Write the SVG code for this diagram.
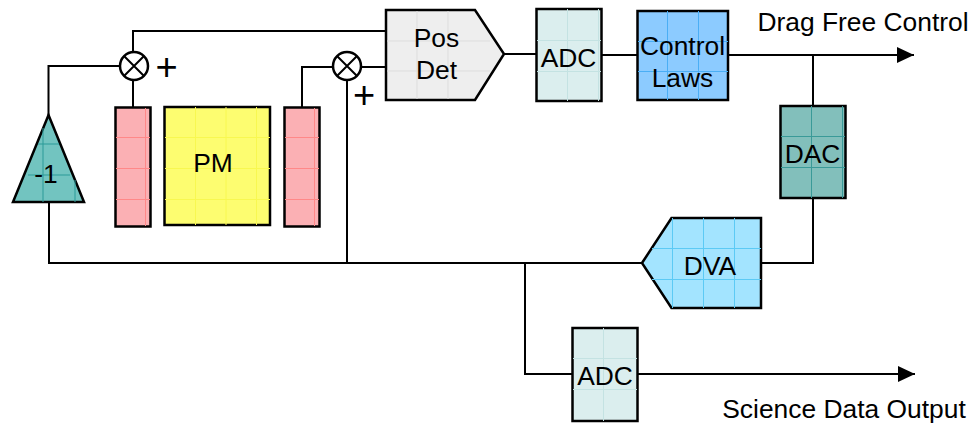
<svg xmlns="http://www.w3.org/2000/svg" width="972" height="424" viewBox="0 0 972 424">
<style>
.s{stroke:#000;stroke-width:2.5;stroke-linejoin:miter}
.c{fill:none;stroke:#000;stroke-width:2}
.t{font-family:"Liberation Sans",Arial,sans-serif;font-size:26.400px;fill:#000;text-anchor:middle}
.g{fill:none;stroke-width:1}
.p{font-family:"Liberation Sans",Arial,sans-serif;font-size:38px;fill:#000;text-anchor:middle}
</style>
<defs>
<marker id="a" markerUnits="userSpaceOnUse" markerWidth="18" markerHeight="16" refX="17" refY="8" orient="auto"><path d="M0 0L17 8L0 16Z" fill="#000"/></marker>
</defs>
<g id="connectors" class="c">
<path d="M133 52V31H386"/>
<path d="M120 66H48.500V115"/>
<path d="M133 80V107"/>
<path d="M302 107V67H333"/>
<path d="M361 67H386"/>
<path d="M347 80V263"/>
<path d="M49 202V263H642"/>
<path d="M525 263V374H572"/>
<path d="M637 374H915" marker-end="url(#a)"/>
<path d="M504 54H536"/>
<path d="M601 55H637"/>
<path d="M728 55H914" marker-end="url(#a)"/>
<path d="M813 55V106"/>
<path d="M813 198V263H761"/>
</g>
<g id="inv">
<path class="s" d="M48.500 115L84 202H13Z" fill="#72c4c0"/>
<path class="g" stroke="#2a9a98" d="M38 144H59M28 175H70M43 128V202M75 180V202"/>
<text class="t" x="46" y="183">-1</text>
</g>
<g id="sum1">
<circle class="s" cx="134" cy="66" r="14" fill="#fff"/>
<path class="c" d="M124 56L144 76M144 56L124 76"/>
<text class="p" x="166.500" y="80">+</text>
</g>
<g id="sum2">
<circle class="s" cx="347" cy="66" r="14" fill="#fff"/>
<path class="c" d="M337 56L357 76M357 56L337 76"/>
<text class="p" x="364" y="108">+</text>
</g>
<g id="red1">
<rect class="s" x="115.500" y="107.500" width="35" height="119" fill="#fbb0b4"/>
<path class="g" stroke="#f88" d="M116 137.500H150M116 168.500H150M116 199.500H150M145.500 108V226"/>
</g>
<g id="pm">
<rect class="s" x="164.500" y="107" width="105.500" height="118" fill="#fdfd70"/>
<path class="g" stroke="#f8f850" d="M165 137.500H270M165 168.500H270M165 199.500H270M195.500 107V225M226 107V225M256.500 107V225"/>
<text class="t" x="213" y="172">PM</text>
</g>
<g id="red2">
<rect class="s" x="284.500" y="107.500" width="35" height="119" fill="#fbb0b4"/>
<path class="g" stroke="#f88" d="M285 137.500H319M285 168.500H319M285 199.500H319M314.500 108V226"/>
</g>
<g id="posdet">
<path class="s" d="M386 10H475L504 54L475 100H386Z" fill="#eeeeee"/>
<path class="g" stroke="#ddd" d="M387 41H490M387 71H490M417 11V99M448 11V99"/>
<text class="t" x="436.500" y="47">Pos</text>
<text class="t" x="436.500" y="79">Det</text>
</g>
<g id="adc1">
<rect class="s" x="536.500" y="9" width="65" height="92" fill="#dbeeee"/>
<path class="g" stroke="#c4e2e2" d="M537 40.500H601M537 71.500H601M567.500 9V101M598.500 9V101"/>
<text class="t" x="568.500" y="67">ADC</text>
</g>
<g id="laws">
<rect class="s" x="637.500" y="11" width="90.500" height="89" fill="#8ccbff"/>
<path class="g" stroke="#4aaef5" d="M638 41.500H728M638 71.500H728M667.500 11V100M698.500 11V100"/>
<text class="t" x="682.500" y="55">Control</text>
<text class="t" x="682.500" y="87">Laws</text>
</g>
<g id="dac">
<rect class="s" x="780.500" y="106" width="65" height="92" fill="#82bfbb"/>
<path class="g" stroke="#3a9a98" d="M781 136.500H845M781 167.500H845M811.500 106V198M842.500 106V198"/>
<text class="t" x="812.500" y="163">DAC</text>
</g>
<g id="dva">
<path class="s" d="M642 263L671.500 218H761V308H671.500Z" fill="#a3e4ff"/>
<path class="g" stroke="#5ccaf5" d="M652 248.500H761M652 279.500H761M672.500 218V308M703.500 218V308M734.500 218V308"/>
<text class="t" x="710" y="275">DVA</text>
</g>
<g id="adc2">
<rect class="s" x="572.500" y="328" width="65" height="93" fill="#dbeeee"/>
<path class="g" stroke="#c4e2e2" d="M573 358.500H637M573 389.500H637M603.500 328V421"/>
<text class="t" x="605" y="385">ADC</text>
</g>
<g id="labels">
<text class="t" x="863" y="31">Drag Free Control</text>
<text class="t" x="844" y="418">Science Data Output</text>
</g>
</svg>
